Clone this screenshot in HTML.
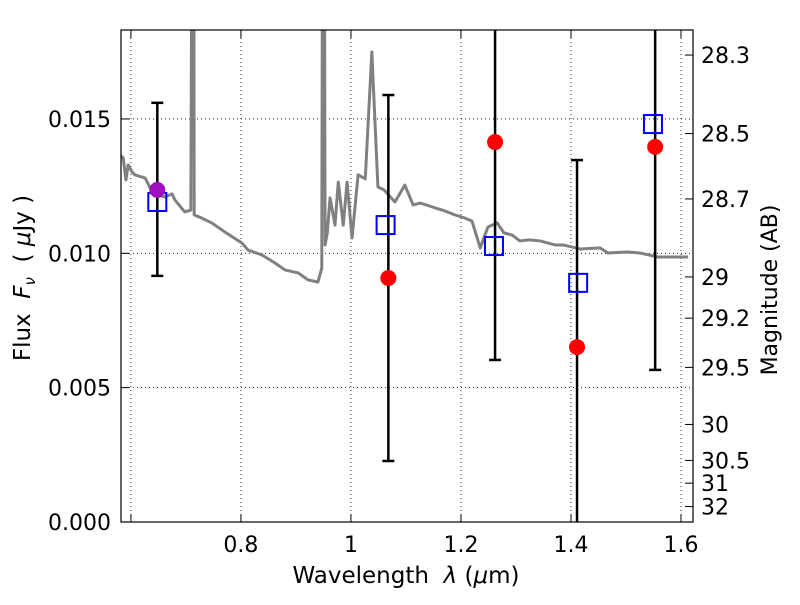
<!DOCTYPE html>
<html><head><meta charset="utf-8"><style>
body{margin:0;background:#fff}
svg text{font-family:"DejaVu Sans","Liberation Sans",sans-serif;fill:#000}
</style></head><body>
<svg id="c" width="800" height="600" viewBox="0 0 800 600"></svg>
<script>
const specWl=[0.580,0.586,0.591,0.595,0.602,0.607,0.626,0.635,0.647,0.662,0.675,0.680,0.698,0.709,0.712,0.713,0.714,0.715,0.729,0.747,0.771,0.802,0.813,0.838,0.862,0.880,0.904,0.922,0.940,0.947,0.949,0.951,0.953,0.957,0.962,0.971,0.977,0.986,0.993,1.002,1.013,1.026,1.038,1.049,1.060,1.080,1.098,1.113,1.126,1.153,1.166,1.189,1.207,1.220,1.235,1.249,1.266,1.278,1.293,1.307,1.324,1.344,1.371,1.386,1.417,1.453,1.467,1.502,1.526,1.558,1.575,1.613];
const specFlux=[0.01366,0.01355,0.01273,0.01329,0.01303,0.01292,0.01280,0.01243,0.01217,0.01210,0.01221,0.01198,0.01154,0.01161,0.03,0.03,0.03,0.01143,0.01131,0.01113,0.01079,0.01038,0.01012,0.00994,0.00964,0.00938,0.00927,0.00901,0.00893,0.00945,0.03,0.03,0.01031,0.01076,0.01206,0.01105,0.01265,0.01105,0.01265,0.01057,0.01292,0.01277,0.01749,0.01247,0.01236,0.01191,0.01254,0.01180,0.01187,0.01169,0.01161,0.01143,0.01131,0.01120,0.01020,0.01098,0.01113,0.01076,0.01068,0.01046,0.01050,0.01046,0.01031,0.01031,0.01016,0.01020,0.01001,0.01005,0.01001,0.00986,0.00986,0.00986];
const obsWl=[0.648,1.068,1.262,1.411,1.553];
const obsFlux=[0.01236,0.00908,0.01414,0.00651,0.01396];
const errLo=[0.00916,0.00227,0.00603,0.0,0.00566];
const errHi=[0.01560,0.01589,0.0200,0.01347,0.0200];
const modWl=[0.648,1.063,1.260,1.413,1.549];
const modFlux=[0.01191,0.01105,0.01027,0.00890,0.01481];
const xTicks=[0.6,0.8,1.0,1.2,1.4,1.6];
const xTickLabels=["","0.8","1","1.2","1.4","1.6"];
const yTicks=[0,0.005,0.010,0.015];
const yTickLabels=["0.000","0.005","0.010","0.015"];
const magTicks=[28.3,28.5,28.7,29,29.2,29.5,30,30.5,31,32];

const L=121,R=693,T=30,B=522,X0=0.582,X1=1.6218,Y1=0.01831;
const sx=v=>L+(v-X0)/(X1-X0)*(R-L);
const sy=v=>B-v/Y1*(B-T);
const svg=document.getElementById('c');const NS='http://www.w3.org/2000/svg';
function el(t,a,p){const e=document.createElementNS(NS,t);for(const k in a)e.setAttribute(k,a[k]);(p||svg).appendChild(e);return e;}
const defs=el('defs',{});const cp=el('clipPath',{id:'clip'},defs);el('rect',{x:L,y:T,width:R-L,height:B-T},cp);
xTicks.forEach((t,i)=>{const x=sx(t);
 const g=el('line',{x1:x,x2:x,y1:T,y2:B,stroke:'#000','stroke-width':0.8,'stroke-dasharray':'1,3'});
 
 el('line',{x1:x,x2:x,y1:B,y2:B-8,stroke:'#000'});el('line',{x1:x,x2:x,y1:T,y2:T+8,stroke:'#000'});
 const tx=el('text',{x:x,y:B+30,'font-size':22,'text-anchor':'middle'});tx.textContent=xTickLabels[i];
 });
yTicks.forEach((t,i)=>{const y=sy(t);
 const g=el('line',{x1:L,x2:R,y1:y,y2:y,stroke:'#000','stroke-width':0.8,'stroke-dasharray':'1,3'});
 
 el('line',{x1:L,x2:L+8,y1:y,y2:y,stroke:'#000'});
 const tx=el('text',{x:L-10,y:y+8,'font-size':22,'text-anchor':'end'});tx.textContent=yTickLabels[i];
 });
magTicks.forEach(m=>{const f=Math.pow(10,(23.9-m)/2.5);const y=sy(f);
 el('line',{x1:R,x2:R-8,y1:y,y2:y,stroke:'#000'});
 const tx=el('text',{x:R+8,y:y+8,'font-size':22});tx.textContent=String(m);
 });
const g=el('g',{'clip-path':'url(#clip)'});
const sp=el('polyline',{points:specWl.map((w,i)=>sx(w)+','+sy(specFlux[i])).join(' '),fill:'none',stroke:'#808080','stroke-width':3,'stroke-linejoin':'round'},g);

obsWl.forEach((w,i)=>{const x=sx(w);
 const e=el('line',{x1:x,x2:x,y1:sy(errLo[i]),y2:sy(errHi[i]),stroke:'#000','stroke-width':2.5},g);
 
 [errLo[i],errHi[i]].forEach(v=>{if(v>0&&v<Y1)el('line',{x1:x-6,x2:x+6,y1:sy(v),y2:sy(v),stroke:'#000','stroke-width':2.5},g);});
});
modWl.forEach((w,i)=>{const s=el('rect',{x:sx(w)-9,y:sy(modFlux[i])-9,width:18,height:18,fill:'none',stroke:'#0000ff','stroke-width':2},g);
 });
obsWl.forEach((w,i)=>{const c=el('circle',{cx:sx(w),cy:sy(obsFlux[i]),r:8,fill:i===0?'#a010c0':'#ff0000'},g);
 });
const fr=el('rect',{x:L,y:T,width:R-L,height:B-T,fill:'none',stroke:'#000','stroke-width':1.2});

const xl=el('text',{x:406,y:583,'font-size':23,'text-anchor':'middle'});xl.innerHTML='Wavelength\u00a0\u00a0<tspan font-style="italic">λ</tspan>\u00a0(<tspan font-style="italic">μ</tspan>m)';

const yl=el('text',{x:0,y:0,'font-size':23,'text-anchor':'middle',transform:'translate(30,278) rotate(-90)'});yl.innerHTML='Flux\u00a0\u00a0<tspan font-style="italic">F</tspan><tspan font-style="italic" font-size="15" dy="5">ν</tspan><tspan dy="-5">\u00a0\u00a0(\u00a0</tspan><tspan font-style="italic">μ</tspan>Jy\u00a0)';

const ml=el('text',{x:0,y:0,'font-size':22,'text-anchor':'middle',transform:'translate(777,290) rotate(-90)'});ml.textContent='Magnitude (AB)';

</script>
</body></html>
